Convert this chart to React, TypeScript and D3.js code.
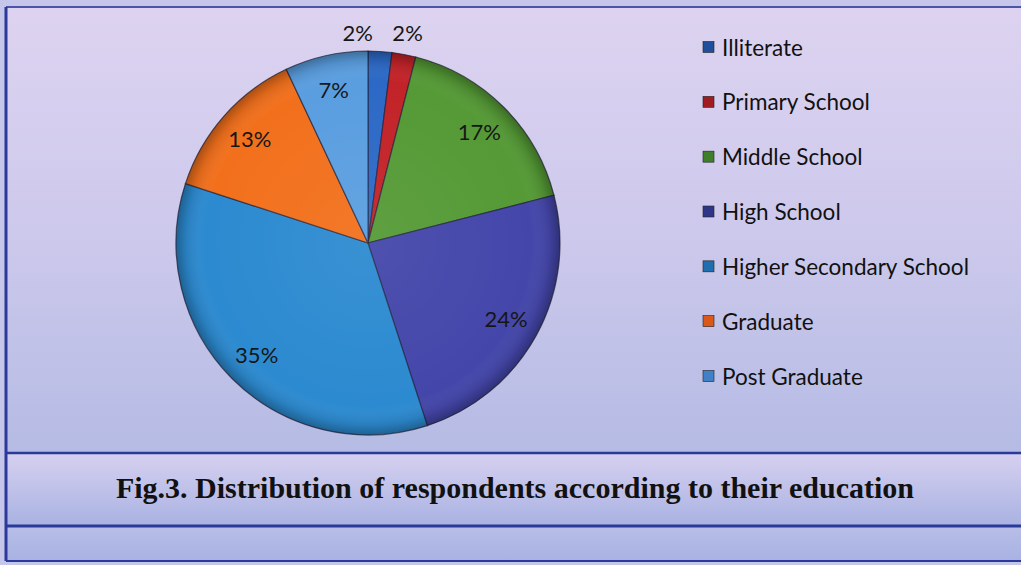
import React from "react";
import * as d3 from "d3";

const categories = [
  "Illiterate",
  "Primary School",
  "Middle School",
  "High School",
  "Higher Secondary School",
  "Graduate",
  "Post Graduate",
];
const values = [2, 2, 17, 24, 35, 13, 7];
const colors = ["#2c69c6", "#c22328", "#559a36", "#4446aa", "#2c8ad0", "#f2701c", "#5a9ee0"];
const legendColors = ["#1f4f9a", "#a01c20", "#3f7f2a", "#2e3488", "#1f6fb0", "#d9581a", "#3f80c8"];
const caption = "Fig.3. Distribution of respondents according to their education";

const W = 1021;
const H = 565;

export default function App() {
  const cx = 368;
  const cy = 243;
  const r = 192;
  const pie = d3.pie<number>().sort(null).value((d) => d);
  const arcs = pie(values);
  const arc = d3.arc<d3.PieArcDatum<number>>().innerRadius(0).outerRadius(r);
  const labelArc = d3.arc<d3.PieArcDatum<number>>().innerRadius(r * 0.82).outerRadius(r * 0.82);
  const outArc = d3.arc<d3.PieArcDatum<number>>().innerRadius(r * 1.1).outerRadius(r * 1.1);

  const labels = arcs.map((a) => {
    const small = a.endAngle - a.startAngle < 0.3;
    const [x, y] = small ? outArc.centroid(a) : labelArc.centroid(a);
    return { x, y: small ? -r - 19 : y, small, v: a.data };
  });
  for (let i = labels.length - 2; i >= 0; i--) {
    const a = labels[i];
    const b = labels[i + 1];
    if (a.small && b.small && b.x - a.x < 50) a.x = b.x - 50;
  }

  const legendY = d3.scalePoint<string>().domain(categories).range([47, 376]);

  return (
    <svg
      width={W}
      height={H}
      style={{ position: "absolute", left: 0, top: 0, display: "block" }}
      fontFamily="Lato, 'Open Sans', sans-serif"
    >
      <defs>
        <linearGradient id="bg" x1="0" y1="0" x2="0" y2="1">
          <stop offset="0" stopColor="#ddd3f0" />
          <stop offset="0.5" stopColor="#cdc9ec" />
          <stop offset="1" stopColor="#b5bbe4" />
        </linearGradient>
        <linearGradient id="band" x1="0" y1="0" x2="0" y2="1">
          <stop offset="0" stopColor="#d6d0f0" />
          <stop offset="1" stopColor="#a9b2e2" />
        </linearGradient>
        <linearGradient id="band2" x1="0" y1="0" x2="0" y2="1">
          <stop offset="0" stopColor="#b8bee8" />
          <stop offset="1" stopColor="#a8b2e2" />
        </linearGradient>
        <radialGradient id="shade" cx="0.5" cy="0.5" r="0.5">
          <stop offset="0" stopColor="#ffffff" stopOpacity="0.06" />
          <stop offset="0.85" stopColor="#ffffff" stopOpacity="0" />
          <stop offset="0.95" stopColor="#000000" stopOpacity="0.1" />
          <stop offset="1" stopColor="#000000" stopOpacity="0.3" />
        </radialGradient>
      </defs>
      <rect x={0} y={0} width={W} height={H} fill="#c6c6ea" />
      <rect x={6} y={7} width={W - 6} height={446} fill="url(#bg)" />
      <rect x={6} y={453} width={W - 6} height={73} fill="url(#band)" />
      <rect x={6} y={526} width={W - 6} height={35} fill="url(#band2)" />
      <line x1={6} y1={7} x2={W} y2={7} stroke="#4a55a8" strokeWidth={2} />
      <line x1={6} y1={7} x2={6} y2={561} stroke="#2b3a9a" strokeWidth={3} />
      <line x1={6} y1={453} x2={W} y2={453} stroke="#2a3a98" strokeWidth={2.5} />
      <line x1={6} y1={526} x2={W} y2={526} stroke="#2a3a98" strokeWidth={3} />
      <line x1={6} y1={561} x2={W} y2={561} stroke="#2a3a98" strokeWidth={2} />

      <g transform={`translate(${cx},${cy})`}>
        {arcs.map((a, i) => (
          <path key={i} d={arc(a) || ""} fill={colors[i]} stroke="#22223a" strokeWidth={1.2} strokeOpacity={0.7} />
        ))}
        <circle r={r} fill="url(#shade)" />
        {labels.map((l, i) => (
          <text
            key={i}
            x={l.x}
            y={l.y}
            textAnchor="middle"
            dominantBaseline="central"
            fontSize={22}
            fill="#161616"
          >
            {l.v}%
          </text>
        ))}
      </g>

      <g>
        {categories.map((c, i) => (
          <g key={c} transform={`translate(703,${legendY(c)})`}>
            <rect x={0} y={-5.5} width={11} height={11} fill={legendColors[i]} stroke="#222" strokeWidth={0.6} />
            <text x={19} y={0} dominantBaseline="central" fontSize={22.5} fill="#111">
              {c}
            </text>
          </g>
        ))}
      </g>

      <text
        x={515}
        y={487}
        textAnchor="middle"
        dominantBaseline="central"
        fontFamily="'Liberation Serif', 'Times New Roman', serif"
        fontWeight="bold"
        fontSize={30}
        fill="#111"
      >
        {caption}
      </text>
    </svg>
  );
}
